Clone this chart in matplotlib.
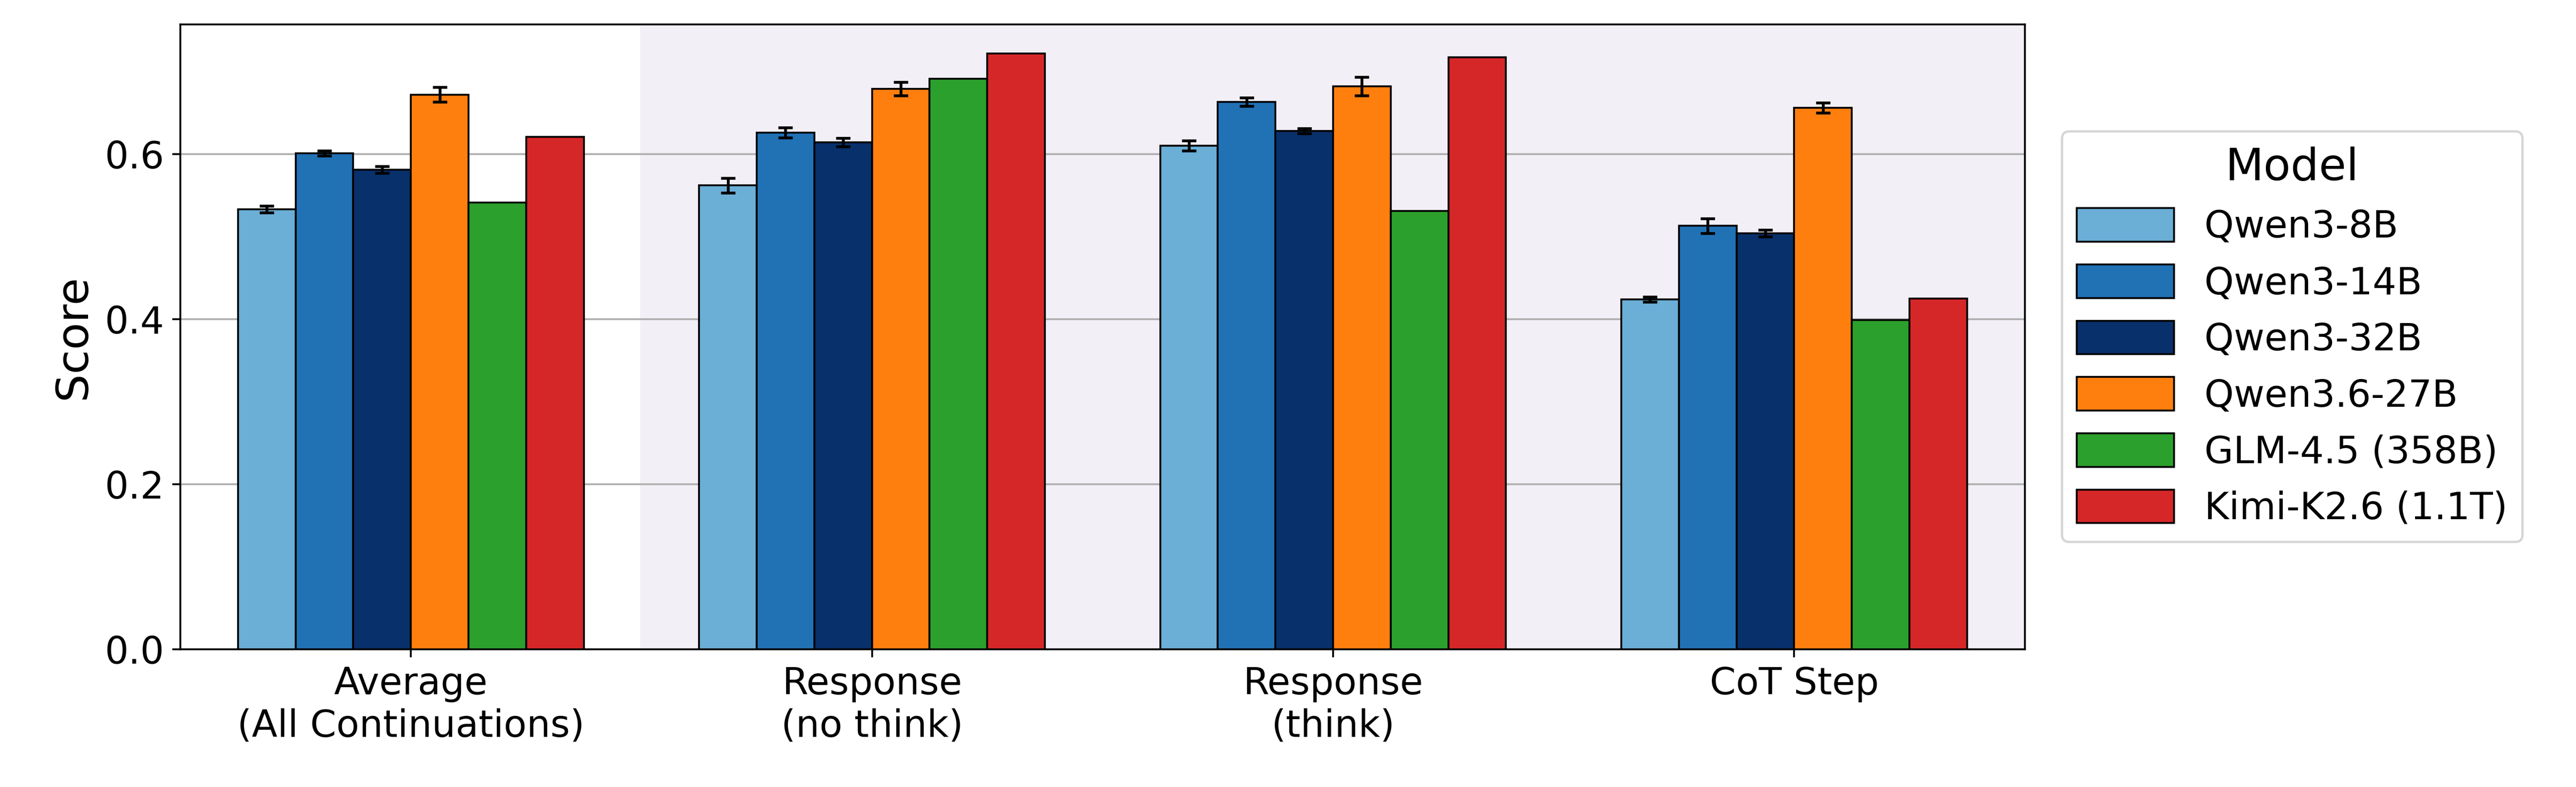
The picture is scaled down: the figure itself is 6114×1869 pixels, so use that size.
import numpy as np
import matplotlib
matplotlib.use('Agg')
import matplotlib.pyplot as plt

categories = ['Average\n(All Continuations)', 'Response\n(no think)', 'Response\n(think)', 'CoT Step']
models = ['Qwen3-8B', 'Qwen3-14B', 'Qwen3-32B', 'Qwen3.6-27B', 'GLM-4.5 (358B)', 'Kimi-K2.6 (1.1T)']
colors = ['#6baed6', '#2171b5', '#08306b', '#ff7f0e', '#2ca02c', '#d62728']

scores = [
    [0.533, 0.562, 0.610, 0.424],   # Qwen3-8B
    [0.601, 0.626, 0.663, 0.513],   # Qwen3-14B
    [0.581, 0.614, 0.628, 0.504],   # Qwen3-32B
    [0.672, 0.679, 0.682, 0.656],   # Qwen3.6-27B
    [0.541, 0.691, 0.531, 0.399],   # GLM-4.5
    [0.621, 0.722, 0.717, 0.425],   # Kimi-K2.6
]
errors = [
    [0.004, 0.009, 0.006, 0.003],
    [0.003, 0.006, 0.005, 0.009],
    [0.004, 0.005, 0.003, 0.004],
    [0.009, 0.008, 0.011, 0.006],
    None,
    None,
]

plt.rcParams['font.family'] = ['DejaVu Sans']
fig = plt.figure(figsize=(15.285, 4.6725), dpi=400)
ax = fig.add_axes([0.070, 0.175, 0.716, 0.794])

x = np.arange(len(categories))
width = 0.125
ax.axvspan(0.5, 3.5, color='#f2eff6', zorder=0)
for i, m in enumerate(models):
    pos = x + (i - 2.5) * width
    ax.bar(pos, scores[i], width, color=colors[i], edgecolor='black', linewidth=0.8,
           label=m, zorder=3)
    if errors[i] is not None:
        ax.errorbar(pos, scores[i], yerr=errors[i], fmt='none', ecolor='black',
                    elinewidth=1.2, capsize=3, capthick=1.2, zorder=4)

ax.set_xlim(-0.5, 3.5)
ax.set_ylim(0, 0.757)
ax.set_xticks(x)
ax.set_xticklabels(categories, fontsize=16)
ax.tick_params(axis='y', labelsize=16)
ax.set_yticks([0, 0.2, 0.4, 0.6])
ax.set_ylabel('Score', fontsize=19)
ax.yaxis.grid(True, color='#b0b0b0', linewidth=0.8, zorder=1)
ax.set_axisbelow(True)
ax.legend(title='Model', loc='center left', bbox_to_anchor=(1.01, 0.5),
          fontsize=16, title_fontsize=19, handlelength=2.6, handleheight=1.0)

fig.savefig('out.png', dpi=400)
